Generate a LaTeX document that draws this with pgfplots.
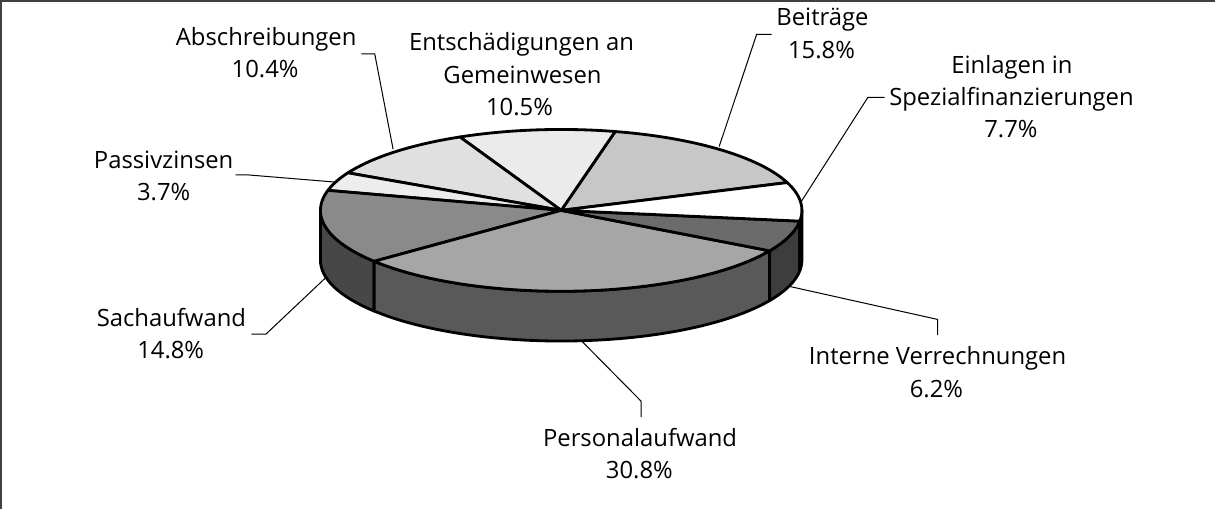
\documentclass[border=0pt]{standalone}
\usepackage{fontspec}
\setmainfont{Open Sans}
\usepackage{pgfplots}
\usepackage{pgfplotstable}
\pgfplotsset{compat=1.18}

% slice data (counter-clockwise from the start angle)
\pgfplotstableread[col sep=comma]{
label,pct
Beiträge,15.8
Entschädigungen an Gemeinwesen,10.5
Abschreibungen,10.4
Passivzinsen,3.7
Sachaufwand,14.8
Personalaufwand,30.8
Interne Verrechnungen,6.2
Einlagen in Spezialfinanzierungen,7.7
}\piedata

% geometry in pixel units of the reference
\def\pcx{565.5}\def\pcy{217.5}\def\pA{239.5}\def\pB{80.5}\def\pD{49.5}
\def\pstart{20.1}

% total
\def\ptotal{0}
\foreach \i in {0,...,7}{%
  \pgfplotstablegetelem{\i}{pct}\of\piedata
  \pgfmathsetmacro\tmpt{\ptotal+\pgfplotsretval}%
  \xdef\ptotal{\tmpt}%
}
% cumulative angles
\def\pcum{0}
\foreach \i in {0,...,7}{%
  \pgfplotstablegetelem{\i}{pct}\of\piedata
  \pgfmathsetmacro\tmpa{\pstart+\pcum/\ptotal*360}%
  \pgfmathsetmacro\tmpc{\pcum+\pgfplotsretval}%
  \pgfmathsetmacro\tmpb{\pstart+\tmpc/\ptotal*360}%
  \expandafter\xdef\csname sA\i\endcsname{\tmpa}%
  \expandafter\xdef\csname sB\i\endcsname{\tmpb}%
  \xdef\pcum{\tmpc}%
}

\definecolor{top0}{gray}{0.78}
\definecolor{top1}{gray}{0.92}
\definecolor{top2}{gray}{0.88}
\definecolor{top3}{gray}{0.93}
\definecolor{top4}{gray}{0.54}
\definecolor{top5}{gray}{0.65}
\definecolor{top6}{gray}{0.42}
\definecolor{top7}{gray}{1.00}
\definecolor{side4}{gray}{0.28}
\definecolor{side5}{gray}{0.35}
\definecolor{side6}{gray}{0.24}
\definecolor{side7}{gray}{0.30}
\definecolor{framegray}{gray}{0.25}

\newcommand\topface[1]{%
  \edef\sa{\csname sA#1\endcsname}%
  \edef\sb{\csname sB#1\endcsname}%
  \addplot[fill=top#1, draw=black, line width=1.4bp, line join=round,
    samples at={-1,0,0.02,...,0.98,1,2}, variable=\t]
    ({(\t<0 || \t>1) ? \pcx : \pcx+\pA*cos(\sa+\t*(\sb-\sa))},
     {(\t<0 || \t>1) ? \pcy : \pcy-\pB*sin(\sa+\t*(\sb-\sa))});
}
\newcommand\sideface[1]{%
  \edef\sa{\csname sA#1\endcsname}%
  \edef\sb{\csname sB#1\endcsname}%
  \pgfmathsetmacro\lo{max(\sa,180)}%
  \pgfmathsetmacro\hi{min(\sb,360)}%
  \addplot[fill=side#1, draw=black, line width=1.4bp, line join=round,
    samples at={0,0.02,...,0.98,1,2,2.02,...,2.98,3,4}, variable=\t]
    ({\pcx+\pA*cos((\t<1.5) ? (\lo+\t*(\hi-\lo)) : ((\t<3.5) ? (\hi-(\t-2)*(\hi-\lo)) : \lo))},
     {\pcy-\pB*sin((\t<1.5) ? (\lo+\t*(\hi-\lo)) : ((\t<3.5) ? (\hi-(\t-2)*(\hi-\lo)) : \lo)) + ((\t>1.5 && \t<3.5) ? \pD : 0)});
}
\newcommand\lab[3]{\node[anchor=base, inner sep=0pt, font=\fontsize{11.85bp}{16bp}\selectfont] at (axis cs:#1,#2) {#3};}

\begin{document}
\begin{tikzpicture}
\begin{axis}[
  scale only axis, width=608bp, height=257.5bp,
  xmin=0, xmax=1216, ymin=0, ymax=515, y dir=reverse,
  hide axis, clip=false,
]
% frame (top and left edges visible)
\addplot[draw=framegray, line width=1bp] coordinates {(8.2,515) (8.2,9.2) (1216,9.2)};

% sides
\sideface{4}
\sideface{5}
\sideface{6}
\sideface{7}
% tops
\topface{0}
\topface{1}
\topface{2}
\topface{3}
\topface{4}
\topface{5}
\topface{6}
\topface{7}

% leader lines
\addplot[black, line width=0.5bp] coordinates {(366.7,61.7) (380,61.7) (398.3,156.7)};
\addplot[black, line width=0.5bp] coordinates {(775,42.3) (760,42.3) (722.7,154)};
\addplot[black, line width=0.5bp] coordinates {(887.3,105) (870.7,105) (804,209.3)};
\addplot[black, line width=0.5bp] coordinates {(241.7,182.3) (255,182.3) (340,189.3)};
\addplot[black, line width=0.5bp] coordinates {(257.3,340.7) (271.7,340.7) (330.7,285)};
\addplot[black, line width=0.5bp] coordinates {(645,423.3) (645,407.3) (586.7,348.3)};
\addplot[black, line width=0.5bp] coordinates {(940,341.7) (940,326) (793.3,293.3)};

% labels
\lab{272}{53.3}{Abschreibungen}
\lab{271}{85.7}{10.4\%}
\lab{526}{58.3}{Entschädigungen an}
\lab{527}{91.7}{Gemeinwesen}
\lab{524}{123.3}{10.5\%}
\lab{825.5}{34}{Beiträge}
\lab{824.5}{66}{15.8\%}
\lab{1014}{81.7}{Einlagen in}
\lab{1013.5}{113.5}{Spezialfinanzierungen}
\lab{1013}{145}{7.7\%}
\lab{170}{176}{Passivzinsen}
\lab{170}{207.3}{3.7\%}
\lab{177.7}{332.7}{Sachaufwand}
\lab{177}{365}{14.8\%}
\lab{644}{452.7}{Personalaufwand}
\lab{643.3}{484}{30.8\%}
\lab{940}{370.7}{Interne Verrechnungen}
\lab{938.8}{403.3}{6.2\%}
\end{axis}
\end{tikzpicture}
\end{document}
